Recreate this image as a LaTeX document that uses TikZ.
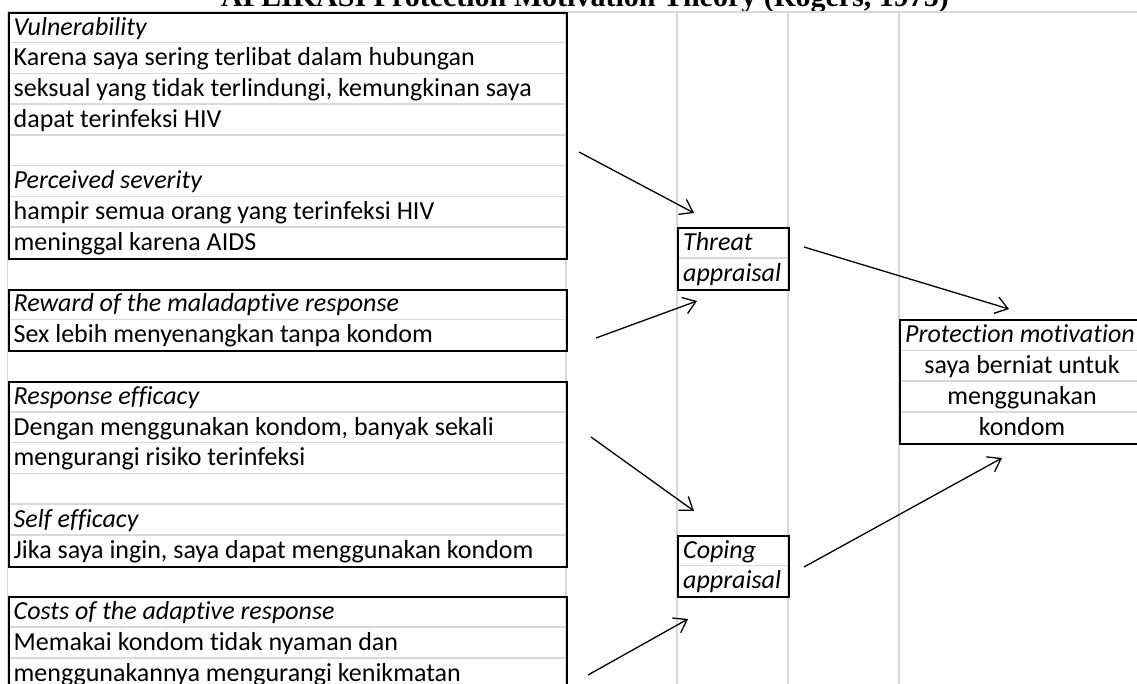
\documentclass[tikz,border=0pt]{standalone}
\usepackage{fontspec}
\setmainfont{Carlito}[Ligatures={NoCommon}]
\newfontfamily\titlefont{Liberation Serif}
\usetikzlibrary{arrows.meta}
\definecolor{gridgrey}{RGB}{217,217,217}
\begin{document}
\begin{tikzpicture}[x=1pt,y=-1pt,
  gridline/.style={draw=gridgrey, line width=1.5pt},
  cellbox/.style={draw=black, line width=2pt, inner sep=0pt, anchor=north west},
  txt/.style={anchor=base west, inner sep=0pt, font=\fontsize{26}{30}\selectfont},
  ctxt/.style={anchor=base, inner sep=0pt, font=\fontsize{26}{30}\selectfont},
  arr/.style={draw=black, line width=1.3pt, -{Straight Barb[length=12pt,width=17pt]}}]
\def\RH{30.75}
\def\RT{12}
\useasboundingbox (0,0) rectangle (1137,684);
\clip (0,0) rectangle (1137,684);
% title (cut at top)
\node[anchor=base, inner sep=0pt, font=\titlefont\bfseries\fontsize{30}{36}\selectfont] (title) at (585,7) {APLIKASI Protection Motivation Theory (Rogers, 1975)};
% sheet grid
\draw[gridline] (7.5,\RT) -- (1137,\RT);
\foreach \gx in {7.5,566,677,788,899} {\draw[gridline] (\gx,\RT) -- (\gx,684);}
% inner row lines of boxes
\foreach \k in {1,...,7,10,13,14,15,16,17,20,21} {\draw[gridline] (7.5,{\RT+\k*\RH}) -- (566,{\RT+\k*\RH});}
\foreach \k in {8,18} {\draw[gridline] (677,{\RT+\k*\RH}) -- (788,{\RT+\k*\RH});}
\foreach \k in {11,12,13} {\draw[gridline] (899,{\RT+\k*\RH}) -- (1146,{\RT+\k*\RH});}
% boxes
\node[cellbox, minimum width=558.5pt, minimum height={8*\RH*1pt}] (vul) at (7.5,\RT) {};
\node[cellbox, minimum width=558.5pt, minimum height={2*\RH*1pt}] (rew) at (7.5,{\RT+9*\RH}) {};
\node[cellbox, minimum width=558.5pt, minimum height={6*\RH*1pt}] (resp) at (7.5,{\RT+12*\RH}) {};
\node[cellbox, minimum width=558.5pt, minimum height={3*\RH*1pt}] (cost) at (7.5,{\RT+19*\RH}) {};
\node[cellbox, minimum width=111pt, minimum height={2*\RH*1pt}] (threat) at (677,{\RT+7*\RH}) {};
\node[cellbox, minimum width=111pt, minimum height={2*\RH*1pt}] (coping) at (677,{\RT+17*\RH}) {};
\node[cellbox, minimum width=247pt, minimum height={4*\RH*1pt}] (prot) at (899,{\RT+10*\RH}) {};
% texts, left column
\node[txt] (t1) at (13.5,{\RT+1*\RH-7.5}) {\textit{Vulnerability}};
\node[txt] (t2) at (13.5,{\RT+2*\RH-7.5}) {Karena saya sering terlibat dalam hubungan};
\node[txt] (t3) at (13.5,{\RT+3*\RH-7.5}) {seksual yang tidak terlindungi, kemungkinan saya};
\node[txt] (t4) at (13.5,{\RT+4*\RH-7.5}) {dapat terinfeksi HIV};
\node[txt] (t6) at (13.5,{\RT+6*\RH-7.5}) {\textit{Perceived severity}};
\node[txt] (t7) at (13.5,{\RT+7*\RH-7.5}) {hampir semua orang yang terinfeksi HIV};
\node[txt] (t8) at (13.5,{\RT+8*\RH-7.5}) {meninggal karena AIDS};
\node[txt] (t10) at (13.5,{\RT+10*\RH-7.5}) {\textit{Reward of the maladaptive response}};
\node[txt] (t11) at (13.5,{\RT+11*\RH-7.5}) {Sex lebih menyenangkan tanpa kondom};
\node[txt] (t13) at (13.5,{\RT+13*\RH-7.5}) {\textit{Response efficacy}};
\node[txt] (t14) at (13.5,{\RT+14*\RH-7.5}) {Dengan menggunakan kondom, banyak sekali};
\node[txt] (t15) at (13.5,{\RT+15*\RH-7.5}) {mengurangi risiko terinfeksi};
\node[txt] (t17) at (13.5,{\RT+17*\RH-7.5}) {\textit{Self efficacy}};
\node[txt] (t18) at (13.5,{\RT+18*\RH-7.5}) {Jika saya ingin, saya dapat menggunakan kondom};
\node[txt] (t20) at (13.5,{\RT+20*\RH-7.5}) {\textit{Costs of the adaptive response}};
\node[txt] (t21) at (13.5,{\RT+21*\RH-7.5}) {Memakai kondom tidak nyaman dan};
\node[txt] (t22) at (13.5,{\RT+22*\RH-7.5}) {menggunakannya mengurangi kenikmatan};
% appraisal boxes
\node[txt] (th1) at (683,{\RT+8*\RH-7.5}) {\textit{Threat}};
\node[txt] (th2) at (683,{\RT+9*\RH-7.5}) {\textit{appraisal}};
\node[txt] (co1) at (683,{\RT+18*\RH-7.5}) {\textit{Coping}};
\node[txt] (co2) at (683,{\RT+19*\RH-7.5}) {\textit{appraisal}};
% protection motivation
\node[txt] (pm1) at (905,{\RT+11*\RH-7.5}) {\textit{Protection motivation}};
\node[ctxt] (pm2) at (1022,{\RT+12*\RH-7.5}) {saya berniat untuk};
\node[ctxt] (pm3) at (1022,{\RT+13*\RH-7.5}) {menggunakan};
\node[ctxt] (pm4) at (1022,{\RT+14*\RH-7.5}) {kondom};
% arrow end points
\coordinate (a1s) at (579,152);  \coordinate (a1e) at (694,213);
\coordinate (a2s) at (596,338);  \coordinate (a2e) at (697,301);
\coordinate (a3s) at (804,247);  \coordinate (a3e) at (1009,309);
\coordinate (a4s) at (591,437);  \coordinate (a4e) at (694,511);
\coordinate (a5s) at (588,675);  \coordinate (a5e) at (688,619);
\coordinate (a6s) at (804,567);  \coordinate (a6e) at (1002,458);
\draw[arr] (a1s) -- (a1e);
\draw[arr] (a2s) -- (a2e);
\draw[arr] (a3s) -- (a3e);
\draw[arr] (a4s) -- (a4e);
\draw[arr] (a5s) -- (a5e);
\draw[arr] (a6s) -- (a6e);
\end{tikzpicture}
\end{document}
